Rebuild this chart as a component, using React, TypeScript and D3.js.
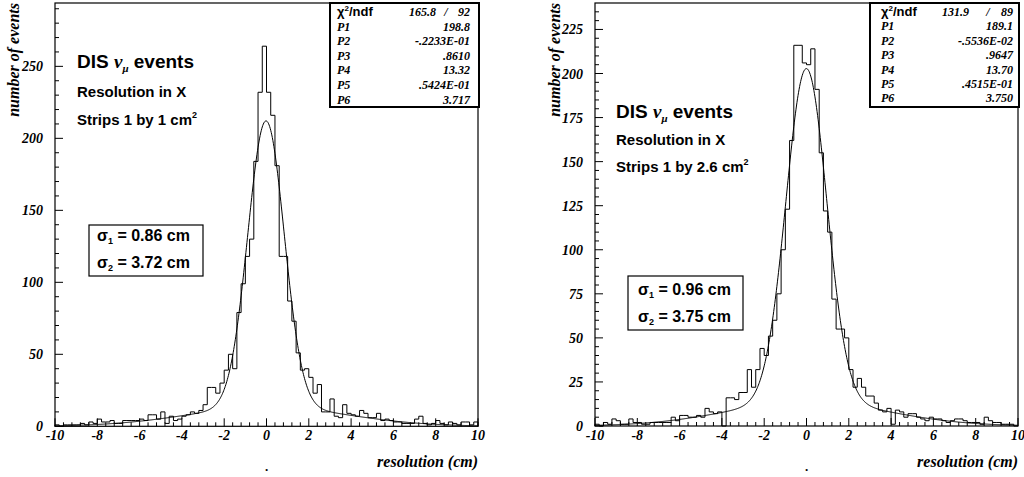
import React from "react";
import * as d3 from "d3";

// ---------- data ----------
const X_DOMAIN: [number, number] = [-10, 10];
const N_BINS = 100;
const X_TICKS = [-10, -8, -6, -4, -2, 0, 2, 4, 6, 8, 10];

const LEFT_COUNTS = [
  1, 0, 1, 1, 1, 1, 2, 1, 3, 2,
  5, 3, 3, 4, 2, 2, 4, 4, 4, 4,
  5, 4, 8, 8, 5, 10, 2, 7, 4, 5,
  7, 8, 10, 9, 11, 15, 27, 27, 23, 30,
  39, 50, 40, 79, 99, 118, 130, 184, 232, 264,
  232, 216, 181, 118, 118, 87, 73, 51, 39, 40,
  34, 23, 29, 10, 10, 19, 7, 6, 15, 9,
  8, 7, 11, 9, 6, 6, 9, 4, 5, 4,
  3, 3, 2, 2, 2, 5, 7, 2, 1, 2,
  4, 2, 1, 3, 2, 1, 3, 3, 1, 3,
];

const RIGHT_COUNTS = [
  1, 0, 2, 1, 4, 3, 1, 1, 4, 2,
  2, 1, 1, 2, 2, 2, 2, 2, 5, 3,
  6, 6, 5, 5, 6, 5, 10, 8, 7, 8,
  0, 16, 16, 15, 19, 19, 32, 22, 32, 44,
  40, 51, 60, 75, 100, 123, 162, 216, 216, 206,
  205, 214, 191, 155, 122, 110, 72, 55, 55, 50,
  32, 22, 27, 22, 17, 17, 13, 9, 8, 10,
  1, 9, 8, 5, 7, 7, 5, 4, 3, 5,
  4, 4, 3, 2, 3, 4, 4, 3, 2, 2,
  2, 1, 5, 3, 2, 2, 1, 1, 1, 0,
];

// fit parameters P1..P6 (double gaussian)
const LEFT_FIT = [198.8, -0.02233, 0.861, 13.32, 0.05424, 3.717];
const RIGHT_FIT = [189.1, -0.005536, 0.9647, 13.7, 0.04515, 3.75];

const LEFT_Y_TICKS = [0, 50, 100, 150, 200, 250];
const RIGHT_Y_TICKS = [0, 25, 50, 75, 100, 125, 150, 175, 200, 225];

const PARAM_NAMES = ["P1", "P2", "P3", "P4", "P5", "P6"];
const LEFT_PARAM_TEXT = ["198.8", "-.2233E-01", ".8610", "13.32", ".5424E-01", "3.717"];
const RIGHT_PARAM_TEXT = ["189.1", "-.5536E-02", ".9647", "13.70", ".4515E-01", "3.750"];
const LEFT_CHI = ["165.8", "92"];
const RIGHT_CHI = ["131.9", "89"];
const LEFT_SIGMAS = ["0.86", "3.72"];
const RIGHT_SIGMAS = ["0.96", "3.75"];
const LEFT_STRIP = "1";
const RIGHT_STRIP = "2.6";

// ---------- layout ----------
const SERIF = "'Liberation Serif', 'DejaVu Serif', serif";
const SANS = "'Liberation Sans', Arial, sans-serif";

type Cfg = {
  counts: number[];
  fit: number[];
  yMax: number;
  yTicks: number[];
  yMinor: number;
  left: number;
  right: number;
  top: number;
  bottom: number;
  yTitleX: number;
  params: string[];
  chi: string[];
  sigmas: string[];
  strip: string;
  stat: { x0: number; x1: number; y0: number; y1: number; labelX: number; valX: number; chiX: number; slashX: number; row0: number; rowH: number };
  ann: { x: number; y0: number; y1: number; y2: number };
  sbox: { x0: number; x1: number; y0: number; y1: number; tx: number; b0: number; b1: number };
};

const PANELS: Cfg[] = [
  {
    counts: LEFT_COUNTS,
    fit: LEFT_FIT,
    yMax: 294,
    yTicks: LEFT_Y_TICKS,
    yMinor: 10,
    left: 55,
    right: 478,
    top: 3,
    bottom: 426.3,
    yTitleX: 19,
    params: LEFT_PARAM_TEXT,
    chi: LEFT_CHI,
    sigmas: LEFT_SIGMAS,
    strip: LEFT_STRIP,
    stat: { x0: 330, x1: 479, y0: 3, y1: 107, labelX: 337, valX: 470, chiX: 436, slashX: 446, row0: 16, rowH: 14.6 },
    ann: { x: 77, y0: 68, y1: 97, y2: 125 },
    sbox: { x0: 89, x1: 203, y0: 225, y1: 276, tx: 97, b0: 241, b1: 268 },
  },
  {
    counts: RIGHT_COUNTS,
    fit: RIGHT_FIT,
    yMax: 240,
    yTicks: RIGHT_Y_TICKS,
    yMinor: 5,
    left: 595,
    right: 1018,
    top: 3,
    bottom: 426,
    yTitleX: 560,
    params: RIGHT_PARAM_TEXT,
    chi: RIGHT_CHI,
    sigmas: RIGHT_SIGMAS,
    strip: RIGHT_STRIP,
    stat: { x0: 870, x1: 1019, y0: 3, y1: 107, labelX: 881, valX: 1013, chiX: 969, slashX: 988, row0: 16, rowH: 14.4 },
    ann: { x: 616, y0: 118, y1: 145, y2: 172 },
    sbox: { x0: 628, x1: 743, y0: 276, y1: 330, tx: 638, b0: 295, b1: 322 },
  },
];

function Panel({ c }: { c: Cfg }) {
  const x = d3.scaleLinear().domain(X_DOMAIN).range([c.left, c.right]);
  const y = d3.scaleLinear().domain([0, c.yMax]).range([c.bottom, c.top]);
  const binW = (X_DOMAIN[1] - X_DOMAIN[0]) / N_BINS;

  const pts: [number, number][] = [[X_DOMAIN[0], 0]];
  c.counts.forEach((v, i) => {
    const x0 = X_DOMAIN[0] + i * binW;
    pts.push([x0, v], [x0 + binW, v]);
  });
  pts.push([X_DOMAIN[1], 0]);
  const line = d3
    .line<[number, number]>()
    .x((d) => x(d[0]))
    .y((d) => y(d[1]));
  const histPath = line(pts) || "";

  const p = c.fit;
  const f = (v: number) =>
    p[0] * Math.exp(-0.5 * ((v - p[1]) / p[2]) ** 2) +
    p[3] * Math.exp(-0.5 * ((v - p[4]) / p[5]) ** 2);
  const fitPts = d3.range(0, 801).map((i) => {
    const v = X_DOMAIN[0] + (i * (X_DOMAIN[1] - X_DOMAIN[0])) / 800;
    return [v, f(v)] as [number, number];
  });
  const fitPath = line(fitPts) || "";

  const xMinor = d3.range(X_DOMAIN[0], X_DOMAIN[1] + 0.001, 0.4);
  const yMinor = d3.range(0, c.yMax, c.yMinor);

  const s = c.stat;
  const tickFont = { fontFamily: SERIF, fontWeight: 700, fontStyle: "italic" as const, fontSize: 14 };
  const statFont = { fontFamily: SERIF, fontWeight: 700, fontStyle: "italic" as const, fontSize: 12 };

  return (
    <g>
      {/* histogram */}
      <path d={histPath} fill="none" stroke="#000" strokeWidth={1} />
      {/* fit */}
      <path d={fitPath} fill="none" stroke="#000" strokeWidth={1} />

      {/* frame */}
      <rect x={c.left} y={c.top} width={c.right - c.left} height={c.bottom - c.top} fill="none" stroke="#000" strokeWidth={1.2} />

      {/* x ticks */}
      {xMinor.map((v, i) => {
        const major = Math.abs(v / 2 - Math.round(v / 2)) < 1e-6;
        return <line key={"xm" + i} x1={x(v)} x2={x(v)} y1={c.bottom} y2={c.bottom - (major ? 8 : 4)} stroke="#000" strokeWidth={1} />;
      })}
      {X_TICKS.map((v) => (
        <text key={"xl" + v} x={x(v)} y={c.bottom + 14} textAnchor="middle" {...tickFont}>
          {v}
        </text>
      ))}

      {/* y ticks */}
      {yMinor.map((v, i) => {
        const major = c.yTicks.includes(v);
        return <line key={"ym" + i} x1={c.left} x2={c.left + (major ? 8 : 4)} y1={y(v)} y2={y(v)} stroke="#000" strokeWidth={1} />;
      })}
      {c.yTicks.map((v) => (
        <text key={"yl" + v} x={c.left - 12} y={y(v) + 5} textAnchor="end" {...tickFont}>
          {v}
        </text>
      ))}

      {/* axis titles */}
      <text transform={`translate(${c.yTitleX},${c.top}) rotate(-90)`} textAnchor="end" fontFamily={SERIF} fontWeight={700} fontStyle="italic" fontSize={16}>
        number of events
      </text>
      <text x={c.right} y={467} textAnchor="end" fontFamily={SERIF} fontWeight={700} fontStyle="italic" fontSize={16}>
        resolution (cm)
      </text>
      <text x={x(0)} y={471} textAnchor="middle" fontFamily={SERIF} fontSize={13} fontWeight={700}>
        .
      </text>

      {/* stats box */}
      <rect x={s.x0} y={s.y0} width={s.x1 - s.x0} height={s.y1 - s.y0} fill="#fff" stroke="#000" strokeWidth={2} />
      <text x={s.labelX} y={s.row0} fontFamily={SANS} fontWeight={700} fontSize={13}>
        χ<tspan dy={-5} fontSize={8}>2</tspan>
        <tspan dy={5}>/ndf</tspan>
      </text>
      <text x={s.chiX} y={s.row0} textAnchor="end" {...statFont}>
        {c.chi[0]}
      </text>
      <text x={s.slashX} y={s.row0} textAnchor="middle" {...statFont}>
        /
      </text>
      <text x={s.valX} y={s.row0} textAnchor="end" {...statFont}>
        {c.chi[1]}
      </text>
      {PARAM_NAMES.map((n, i) => (
        <g key={n}>
          <text x={s.labelX} y={s.row0 + (i + 1) * s.rowH} {...statFont}>
            {n}
          </text>
          <text x={s.valX} y={s.row0 + (i + 1) * s.rowH} textAnchor="end" {...statFont}>
            {c.params[i]}
          </text>
        </g>
      ))}

      {/* annotations */}
      <text x={c.ann.x} y={c.ann.y0} fontFamily={SANS} fontWeight={700} fontSize={19}>
        DIS <tspan fontFamily={SERIF} fontStyle="italic">ν</tspan>
        <tspan dy={4} fontSize={11} fontFamily={SERIF} fontStyle="italic">μ</tspan>
        <tspan dy={-4}> events</tspan>
      </text>
      <text x={c.ann.x} y={c.ann.y1} fontFamily={SANS} fontWeight={700} fontSize={15}>
        Resolution in X
      </text>
      <text x={c.ann.x} y={c.ann.y2} fontFamily={SANS} fontWeight={700} fontSize={15}>
        Strips 1 by {c.strip} cm<tspan dy={-7} fontSize={9}>2</tspan>
      </text>

      {/* sigma box */}
      <rect x={c.sbox.x0} y={c.sbox.y0} width={c.sbox.x1 - c.sbox.x0} height={c.sbox.y1 - c.sbox.y0} fill="#fff" stroke="#000" strokeWidth={1.2} />
      {c.sigmas.map((sv, i) => (
        <text key={"s" + i} x={c.sbox.tx} y={i === 0 ? c.sbox.b0 : c.sbox.b1} fontFamily={SANS} fontWeight={700} fontSize={16}>
          σ<tspan dy={3} fontSize={9}>{i + 1}</tspan>
          <tspan dy={-3}> = {sv} cm</tspan>
        </text>
      ))}
    </g>
  );
}

export default function App() {
  return (
    <svg width={1024} height={477} style={{ position: "absolute", left: 0, top: 0, background: "#fff" }}>
      <rect x={0} y={0} width={1024} height={477} fill="#fff" />
      {PANELS.map((c, i) => (
        <Panel key={i} c={c} />
      ))}
    </svg>
  );
}
